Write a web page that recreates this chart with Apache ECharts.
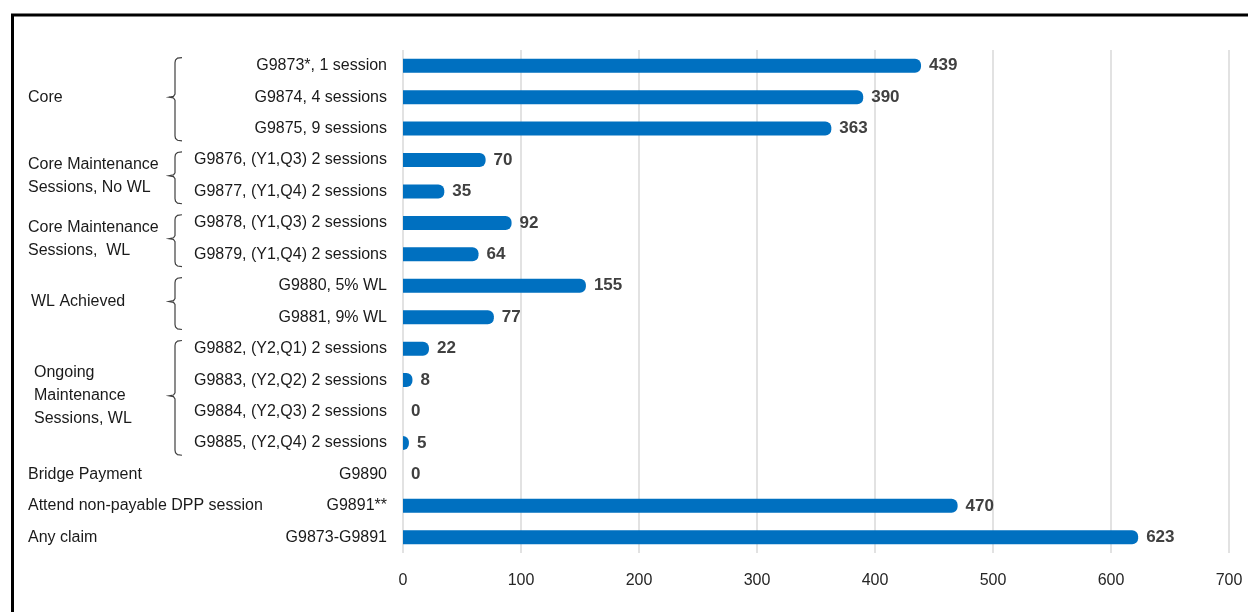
<!DOCTYPE html>
<html>
<head>
<meta charset="utf-8">
<script src="https://cdn.jsdelivr.net/npm/echarts@6/dist/echarts.min.js"></script>
<style>
  html, body { margin: 0; padding: 0; background: #fff; }
  #chart { width: 1248px; height: 612px; }
</style>
</head>
<body>
<div id="chart"></div>
<script>
// Procedure codes, top to bottom
const categories = [
  'G9873*, 1 session',
  'G9874, 4 sessions',
  'G9875, 9 sessions',
  'G9876, (Y1,Q3) 2 sessions',
  'G9877, (Y1,Q4) 2 sessions',
  'G9878, (Y1,Q3) 2 sessions',
  'G9879, (Y1,Q4) 2 sessions',
  'G9880, 5% WL',
  'G9881, 9% WL',
  'G9882, (Y2,Q1) 2 sessions',
  'G9883, (Y2,Q2) 2 sessions',
  'G9884, (Y2,Q3) 2 sessions',
  'G9885, (Y2,Q4) 2 sessions',
  'G9890',
  'G9891**',
  'G9873-G9891'
];
// Claim counts per code
const values = [439, 390, 363, 70, 35, 92, 64, 155, 77, 22, 8, 0, 5, 0, 470, 623];

// Value axis range
const axisMin = 0;
const axisMax = 700;
const axisStep = 100;

// Code groups: label and first/last row of each group
const groupLabels = [
  'Core',
  'Core Maintenance\nSessions, No WL',
  'Core Maintenance\nSessions,  WL',
  'WL Achieved',
  'Ongoing\nMaintenance\nSessions, WL',
  'Bridge Payment',
  'Attend non-payable DPP session',
  'Any claim'
];
const groupFirst = [0, 3, 5, 7, 9, 13, 14, 15];
const groupLast  = [2, 4, 6, 8, 12, 13, 14, 15];

const FONT = '"Liberation Sans", Arial, sans-serif';
const chart = echarts.init(document.getElementById('chart'), null, { renderer: 'canvas' });

chart.setOption({
  animation: false,
  backgroundColor: '#ffffff',
  textStyle: { fontFamily: FONT },
  grid: { left: 403, right: 19, top: 50, bottom: 59, containLabel: false },
  xAxis: {
    type: 'value',
    min: axisMin,
    max: axisMax,
    interval: axisStep,
    axisLine: { show: false },
    axisTick: { show: false },
    axisLabel: { color: '#262626', fontSize: 16, margin: 20, fontFamily: FONT },
    splitLine: { lineStyle: { color: '#d9d9d9', width: 1.5 } }
  },
  yAxis: {
    type: 'category',
    inverse: true,
    data: categories,
    axisLine: { show: false },
    axisTick: { show: false },
    axisLabel: { color: '#1a1a1a', fontSize: 16, margin: 16, fontFamily: FONT }
  },
  series: [{
    type: 'bar',
    data: values,
    barWidth: 14,
    itemStyle: { color: '#0070c0', borderRadius: [0, 6, 6, 0] },
    label: {
      show: true,
      position: 'right',
      distance: 8,
      color: '#404040',
      fontWeight: 'bold',
      fontSize: 17,
      fontFamily: FONT
    }
  }]
});

// Group labels and braces, placed from the category axis positions
function drawGroups() {
  const rowY = i => chart.convertToPixel({ yAxisIndex: 0 }, categories[i]);
  const band = rowY(1) - rowY(0);
  const elements = [];

  // outer frame
  elements.push({
    type: 'rect',
    shape: { x: 12.5, y: 15, width: 1400, height: 800 },
    style: { fill: null, stroke: '#000', lineWidth: 3 },
    silent: true
  });

  const braceX = 175;
  groupLabels.forEach((label, g) => {
    const top = rowY(groupFirst[g]);
    const bottom = rowY(groupLast[g]);
    const mid = (top + bottom) / 2;
    const indent = g === 4 ? 34 : (g === 3 ? 31 : 28);
    elements.push({
      type: 'text',
      style: {
        text: label,
        x: indent,
        y: mid,
        fill: '#1a1a1a',
        font: '16px ' + FONT,
        verticalAlign: 'middle',
        align: 'left',
        lineHeight: 23
      },
      silent: true
    });
    if (groupLast[g] > groupFirst[g]) {
      const y0 = top - band * 0.26;
      const y1 = bottom + band * 0.39;
      const x = braceX;
      elements.push({
        type: 'polyline',
        shape: {
          points: [
            [x + 7, y0], [x + 2.5, y0 + 0.6], [x + 0.5, y0 + 2.5], [x, y0 + 5],
            [x, mid - 3], [x - 1.5, mid - 0.8], [x - 6, mid],
            [x - 1.5, mid + 0.8], [x, mid + 3],
            [x, y1 - 5], [x + 0.5, y1 - 2.5], [x + 2.5, y1 - 0.6], [x + 7, y1]
          ]
        },
        style: { stroke: '#404040', lineWidth: 1.2, fill: null },
        silent: true
      });
    }
  });
  chart.setOption({ graphic: elements });
}
drawGroups();
</script>
</body>
</html>
